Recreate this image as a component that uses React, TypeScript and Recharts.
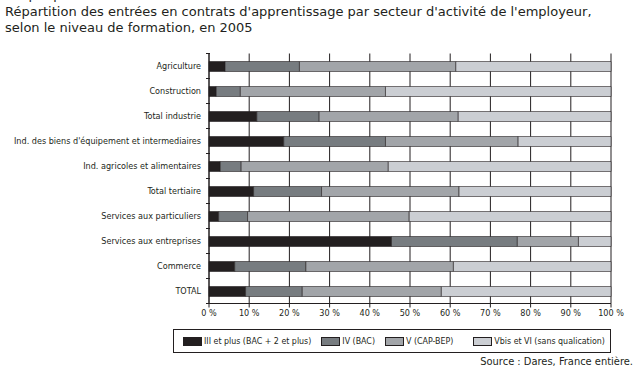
import React from 'react';
import { BarChart, Bar, XAxis, YAxis, CartesianGrid } from 'recharts';

// --- DATA ---
const sectors = [
  'Agriculture',
  'Construction',
  'Total industrie',
  "Ind. des biens d'équipement et intermediaires",
  'Ind. agricoles et alimentaires',
  'Total tertiaire',
  'Services aux particuliers',
  'Services aux entreprises',
  'Commerce',
  'TOTAL',
];
const niveauIII = [4.0, 1.8, 11.9, 18.6, 2.8, 11.1, 2.4, 45.4, 6.4, 9.1];
const niveauIV = [18.5, 6.0, 15.5, 25.3, 5.2, 16.9, 7.2, 31.3, 17.7, 14.1];
const niveauV = [38.9, 36.1, 34.6, 33.0, 36.6, 34.2, 40.2, 15.2, 36.7, 34.6];
const niveauVbis = [38.6, 56.1, 38.0, 23.1, 55.4, 37.8, 50.2, 8.1, 39.2, 42.2];
const xTicks = [0, 10, 20, 30, 40, 50, 60, 70, 80, 90, 100];

const SERIES = [
  { key: 'iii', name: 'III et plus (BAC + 2 et plus)', color: '#231f20' },
  { key: 'iv', name: 'IV (BAC)', color: '#777c80' },
  { key: 'v', name: 'V (CAP-BEP)', color: '#a2a5a9' },
  { key: 'vbis', name: 'Vbis et VI (sans qualication)', color: '#cbced3' },
];

const chartData = sectors.map((name, i) => ({
  name,
  iii: niveauIII[i],
  iv: niveauIV[i],
  v: niveauV[i],
  vbis: niveauVbis[i],
}));

const LABEL_FONT = '"DejaVu Sans Condensed", "DejaVu Sans", sans-serif';
const PLOT_TOP = 53.5;
const PLOT_BOTTOM = 303.5;
const HALF_BAND = (PLOT_BOTTOM - PLOT_TOP) / sectors.length / 2;

// tick en forme de petit trait entre les catégories + libellé
const SectorTick = (props: any) => {
  const { x, y, payload } = props;
  const half = payload && payload.offset ? payload.offset : HALF_BAND;
  return (
    <g>
      <line x1={x + 5} x2={x + 9} y1={y - half} y2={y - half} stroke="#231f20" strokeWidth={1} />
      <line x1={x + 5} x2={x + 9} y1={y + half} y2={y + half} stroke="#231f20" strokeWidth={1} />
      <text x={x} y={y} dy={3} textAnchor="end" fontSize={9} fill="#231f20" fontFamily={LABEL_FONT}>
        {payload.value}
      </text>
    </g>
  );
};

export default function App() {
  return (
    <div style={{ position: 'absolute', left: 0, top: 0, width: 641, height: 377, background: '#fff', overflow: 'hidden' }}>
      <div style={{ position: 'absolute', left: 5, top: -13, fontFamily: '"DejaVu Sans", sans-serif', fontSize: 13, color: '#231f20' }}>
        Graphique 2
      </div>
      <div style={{ position: 'absolute', left: 5, top: 4, fontFamily: '"DejaVu Sans", sans-serif', fontSize: 13, lineHeight: '16px', color: '#231f20', whiteSpace: 'nowrap' }}>
        Répartition des entrées en contrats d'apprentissage par secteur d'activité de l'employeur,
        <br />
        selon le niveau de formation, en 2005
      </div>

      <BarChart
        width={641}
        height={377}
        data={chartData}
        layout="vertical"
        margin={{ top: PLOT_TOP, right: 30, bottom: 53.5, left: 0 }}
        barSize={10}
      >
        <CartesianGrid horizontal={false} vertical stroke="#231f20" strokeWidth={1} />
        <XAxis
          type="number"
          domain={[0, 100]}
          ticks={xTicks}
          height={20}
          axisLine={{ stroke: '#231f20' }}
          tickLine={{ stroke: '#231f20' }}
          tickSize={4}
          tick={{ fontSize: 9, fill: '#231f20', fontFamily: LABEL_FONT }}
          tickFormatter={(v: number) => `${v} %`}
          interval={0}
        />
        <XAxis
          xAxisId="top"
          orientation="top"
          type="number"
          domain={[0, 100]}
          height={0}
          tick={false}
          tickLine={false}
          axisLine={{ stroke: '#231f20' }}
        />
        <YAxis
          dataKey="name"
          type="category"
          width={209}
          axisLine={{ stroke: '#231f20' }}
          tickLine={false}
          tick={<SectorTick />}
          interval={0}
        />
        {SERIES.map(s => (
          <Bar
            key={s.key}
            dataKey={s.key}
            name={s.name}
            stackId="a"
            fill={s.color}
            stroke="#231f20"
            strokeWidth={0.6}
            isAnimationActive={false}
          />
        ))}
      </BarChart>

      <div
        style={{
          position: 'absolute', left: 173, top: 329, width: 436, height: 22,
          border: '1px solid #231f20', display: 'flex', alignItems: 'center',
          fontFamily: LABEL_FONT, fontSize: 8.8, color: '#231f20', boxSizing: 'content-box',
        }}
      >
        {SERIES.map((s, i) => (
          <div key={s.key} style={{ display: 'flex', alignItems: 'center', marginLeft: [9, 10, 10, 20][i] }}>
            <span style={{ display: 'inline-block', width: 17, height: 7, background: s.color, border: '1px solid #231f20', marginRight: 2 }} />
            <span style={{ whiteSpace: 'nowrap' }}>{s.name}</span>
          </div>
        ))}
      </div>

      <div style={{ position: 'absolute', right: 8, top: 355, fontFamily: LABEL_FONT, fontSize: 11, color: '#231f20', whiteSpace: 'nowrap' }}>
        Source : Dares, France entière.
      </div>
    </div>
  );
}
